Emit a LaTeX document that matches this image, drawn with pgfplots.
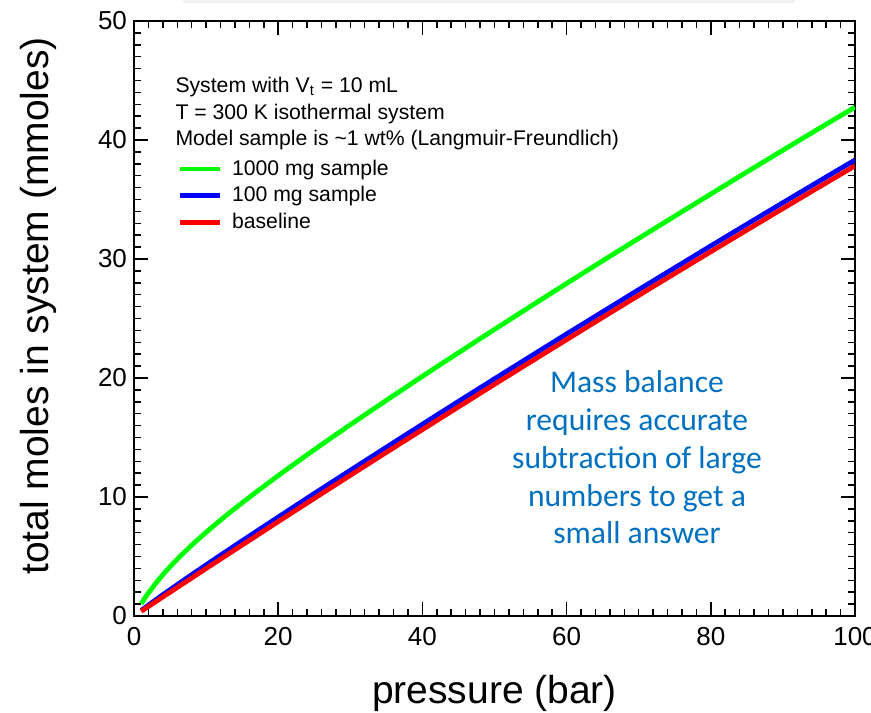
\documentclass[border=0pt]{standalone}
\usepackage{fontspec}
\setmainfont{Liberation Sans}
\newfontfamily\notefont{Carlito}
\usepackage{pgfplots}
\usepackage{pgfplotstable}
\pgfplotsset{compat=1.18}
\definecolor{notecolor}{HTML}{0070C0}
\definecolor{lngreen}{HTML}{00FF00}
\definecolor{lnblue}{HTML}{0000FF}
\definecolor{lnred}{HTML}{FF0000}

% pressure (bar), total moles (mmol): empty cell, 100 mg sample, 1000 mg sample
\pgfplotstableread{
p    base   s100   s1000
1    0.40   0.46   1.03
2    0.80   0.91   1.93
3    1.20   1.35   2.73
4    1.60   1.79   3.46
5    2.00   2.21   4.14
6    2.40   2.63   4.77
8    3.19   3.47   5.95
10   3.99   4.29   7.03
12   4.78   5.11   8.06
15   5.96   6.32   9.51
20   7.93   8.31   11.79
25   9.88   10.29  13.97
30   11.82  12.24  16.07
35   13.75  14.18  18.12
40   15.66  16.11  20.14
45   17.57  18.03  22.12
50   19.47  19.93  24.08
55   21.35  21.82  26.02
60   23.22  23.70  27.94
65   25.09  25.56  29.85
70   26.94  27.42  31.73
75   28.78  29.26  33.60
80   30.61  31.10  35.46
85   32.43  32.92  37.31
90   34.24  34.73  39.14
95   36.04  36.53  40.96
100  37.83  38.32  42.76
}\moles

\begin{document}
\begin{tikzpicture}
\begin{axis}[
  scale only axis,
  width=360.5pt, height=297.5pt,
  xmin=0, xmax=100, ymin=0, ymax=50,
  xtick={0,20,...,100}, ytick={0,10,...,50},
  minor x tick num=9, minor y tick num=9,
  major tick length=7pt, minor tick length=3.5pt,
  tick style={line width=0.75pt, black},
  axis line style={line width=1pt, black},
  /pgf/number format/assume math mode=true,
  ticklabel style={font=\fontsize{13}{15}\selectfont},
  xticklabel style={yshift=-2pt},
  xlabel={pressure (bar)},
  ylabel={total moles in system (mmoles)},
  label style={font=\fontsize{19.5}{23}\selectfont},
  xlabel style={at={(axis description cs:0.5,-0.13)}, anchor=center},
  ylabel style={at={(axis description cs:-0.133,0.521)}, anchor=center},
  % short line sample; the bare coordinate leaves a gap before the text
  legend image code/.code={%
    \draw[#1] (0pt,0pt) -- (20pt,0pt);
    \path (25pt,0pt);},
  legend style={
    draw=none, fill=none, inner sep=0pt, outer sep=0pt,
    at={(axis description cs:0.060,0.768)}, anchor=north west,
    font=\fontsize{10.6}{12.7}\selectfont,
    nodes={inner sep=0pt, text height=8pt, text depth=2pt},
    row sep=3.35pt,
  },
  legend cell align=left,
]
\addplot[lngreen, line width=2.4pt, smooth] table[x=p, y=s1000] {\moles};
\addlegendentry{1000 mg sample}
\addplot[lnblue, line width=2.4pt, smooth] table[x=p, y=s100] {\moles};
\addlegendentry{100 mg sample}
\addplot[lnred, line width=2.4pt, smooth] table[x=p, y=base] {\moles};
\addlegendentry{baseline}

% anchor=base sits on the last line of a multi-line node
\node[anchor=base west, inner sep=0pt, align=left,
      font=\fontsize{10.6}{13.35}\selectfont]
  at (axis description cs:0.057,0.790)
  {System with V$_{\mathrm{t}}$ = 10 mL\\
   T = 300 K isothermal system\\
   Model sample is \char`~1 wt\% (Langmuir-Freundlich)};

\node[anchor=base, inner sep=0pt, align=center, text=notecolor,
      font=\notefont\fontsize{15.8}{18.9}\selectfont]
  at (axis description cs:0.6976,0.121)
  {Mass balance\\requires accurate\\subtraction of large\\numbers to get a\\small answer};
\end{axis}
\pgfresetboundingbox
\path[use as bounding box]
  ([xshift=-67pt,yshift=-48.5pt]current axis.south west)
  rectangle ([xshift=8pt,yshift=10.5pt]current axis.north east);
\fill[black!5] ([xshift=24.5pt,yshift=9pt]current axis.north west)
  rectangle ([xshift=330.5pt,yshift=10.5pt]current axis.north west);
\end{tikzpicture}
\end{document}
